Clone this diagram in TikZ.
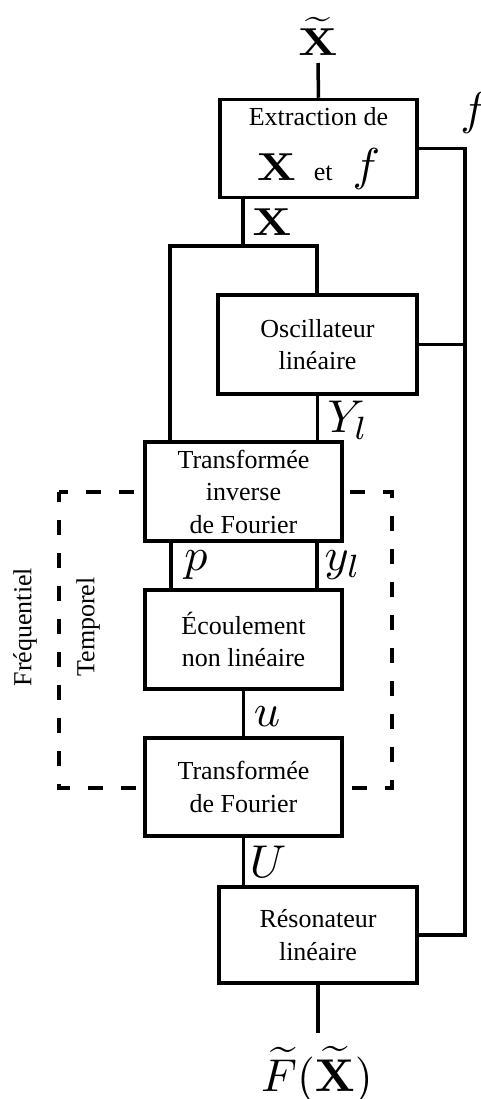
\documentclass[tikz,border=0pt]{standalone}
\usepackage{graphicx}
\usepackage[no-math]{fontspec}
\setmainfont{Liberation Serif}
\newcommand{\txtsz}{\fontsize{26}{32.5}\selectfont}
\newcommand{\mbig}[1]{\scalebox{4.6}{\fontsize{10}{12}\selectfont$#1$}}
\newcommand{\mbx}[1]{\scalebox{4.5}[3.9]{\fontsize{10}{12}\selectfont$#1$}}
\tikzset{
  blk/.style={draw, line width=3.5pt, fill=white, minimum width=197pt, minimum height=98pt, inner sep=0pt, align=center, font=\txtsz},
  wire/.style={line width=3.5pt, line join=miter},
  lbl/.style={inner sep=0pt},
  dashbox/.style={line width=3.5pt, dash pattern=on 15pt off 18pt, dash phase=6pt},
}
\begin{document}
\begin{tikzpicture}[x=1pt,y=-1pt]
\useasboundingbox (0,0) rectangle (480,1099);
% dashed frame (behind)
\draw[dashbox] (59,492) -- (392,492) -- (392,788) -- (59,788) -- cycle;
% coordinates
\coordinate (intop) at (318,63);
\coordinate (jX) at (243,246);
\coordinate (pL) at (170,246);
\coordinate (pR) at (317,246);
\coordinate (fR) at (465,0);
\coordinate (outb) at (318,1033);
\coordinate (pX) at (171,0);
\coordinate (yX) at (317,0);
% blocks
\node[blk] (ext) at (318.5,148.5) {Extraction de\\[23pt]\mbx{\mathbf{X}}\hspace{18pt}et\hspace{20pt}\mbig{f}};
\node[blk, minimum width=199pt, minimum height=99pt] (osc) at (317.5,344.5) {Oscillateur\\lin\'eaire};
\node[blk, minimum height=99pt] (TI) at (243.5,491.5) {Transform\'ee\\inverse\\de Fourier};
\node[blk, minimum height=99pt] (Ec) at (243.5,639.5) {\'Ecoulement\\non lin\'eaire};
\node[blk] (TF) at (243.5,787) {Transform\'ee\\de Fourier};
\node[blk, minimum width=198pt, minimum height=96pt] (Res) at (318,935) {R\'esonateur\\lin\'eaire};
% labels
\node[lbl] (Xt) at (318,36) {\mbx{\widetilde{\mathbf{X}}}};
\node[lbl] (Xl) at (272,222) {\mbx{\mathbf{X}}};
\node[lbl] (fl) at (474,113) {\mbig{f}};
\node[lbl] (Yl) at (348,420) {\mbig{Y_l}};
\node[lbl] (pl) at (196,565) {\mbig{p}};
\node[lbl] (yl) at (343,565) {\mbig{y_l}};
\node[lbl] (ul) at (267,717) {\mbig{u}};
\node[lbl] (Ul) at (268,862) {\mbig{U}};
\node[lbl] (Fo) at (317,1075) {\mbig{\widetilde{F}(\widetilde{\mathbf{X}})}};
\node[lbl, rotate=90, font=\txtsz] (freq) at (25,627) {Fr\'equentiel};
\node[lbl, rotate=90, font=\txtsz] (temp) at (88,627) {Temporel};
% connectors
\draw[wire] (ext.north) -- (intop);
\draw[wire] (ext.south -| jX) -- (jX);
\draw[wire] (TI.north -| pL) -- (pL) -- (pR) -- (osc.north -| pR);
\draw[wire] (osc.south) -- (TI.north -| osc.south);
\draw[wire] (TI.south -| pX) -- (Ec.north -| pX);
\draw[wire] (TI.south -| yX) -- (Ec.north -| yX);
\draw[wire] (Ec.south) -- (TF.north);
\draw[wire] (TF.south) -- (Res.north -| TF.south);
\draw[wire] (Res.south) -- (outb);
\draw[wire] (ext.east) -- (ext.east -| fR) -- (Res.east -| fR) -- (Res.east);
\draw[wire] (osc.east) -- (osc.east -| fR);
\end{tikzpicture}
\end{document}
